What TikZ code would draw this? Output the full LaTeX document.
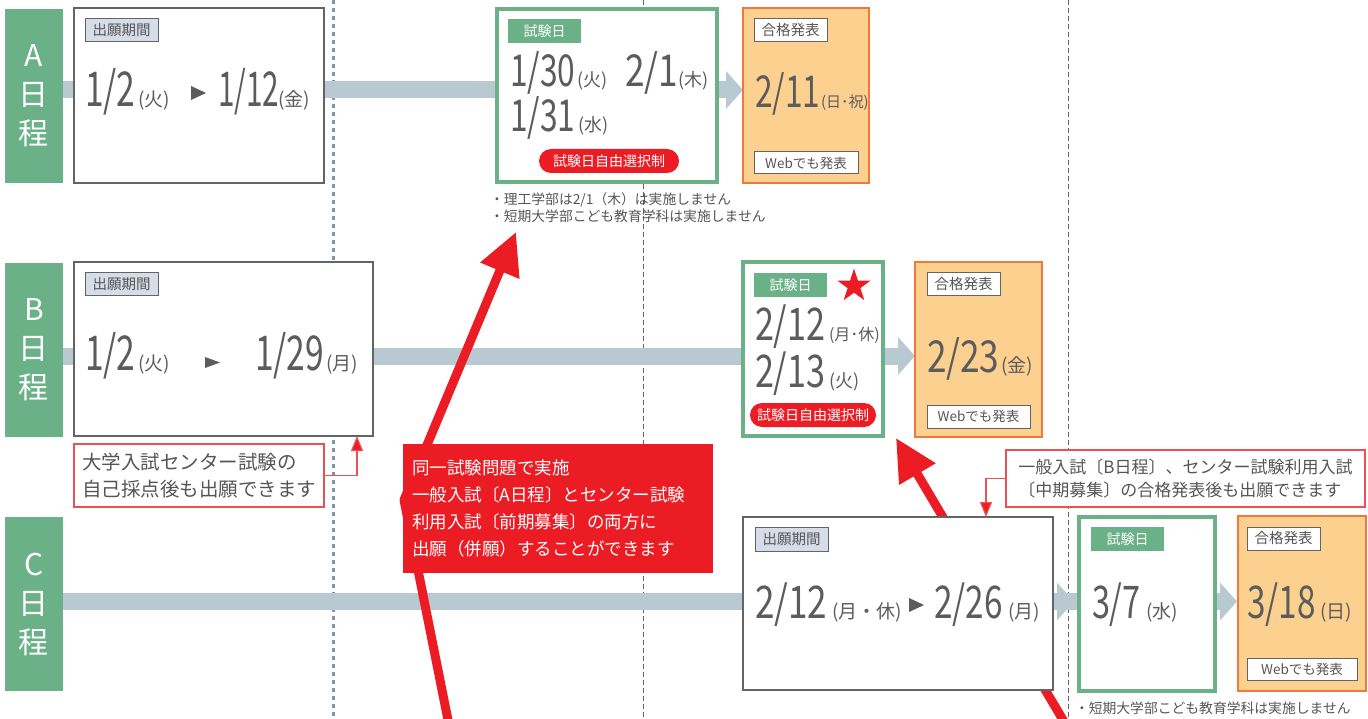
\documentclass[tikz,border=0pt]{standalone}
\usepackage{fontspec}
\usepackage{graphicx}
\setmainfont{Noto Sans CJK JP}
\usetikzlibrary{arrows.meta,shapes.geometric}
\pgfdeclarelayer{bg}
\pgfdeclarelayer{mid}
\pgfsetlayers{bg,mid,main}
\definecolor{grn}{RGB}{106,177,135}
\definecolor{rd}{RGB}{236,28,36}
\definecolor{orf}{RGB}{252,208,143}
\definecolor{orb}{RGB}{240,120,60}
\definecolor{barc}{RGB}{185,201,210}
\definecolor{tagf}{RGB}{214,221,232}
\definecolor{txt}{RGB}{85,85,85}
\definecolor{dtxt}{RGB}{92,92,92}
\definecolor{bxg}{RGB}{100,100,100}
\definecolor{bdot}{RGB}{125,150,170}
\definecolor{nrb}{RGB}{235,80,85}
\newcommand\bigd[3][0.72]{{\fontsize{#2}{#2}\selectfont\scalebox{#1}[1]{#3}}}
\newcommand\dayf[2]{{\fontsize{#1}{#1}\selectfont #2}}
\begin{document}
\begin{tikzpicture}[x=1pt,y=-1pt,
  every node/.style={inner sep=0pt,outer sep=0pt},
  lab/.style={fill=grn,text=white,anchor=north west,align=center,minimum width=58,minimum height=174,font=\fontsize{30}{39}\selectfont},
  appbox/.style={draw=bxg,line width=1.2pt,fill=white,anchor=north west},
  exambox/.style={draw=grn,line width=4pt,fill=white,anchor=north west},
  resbox/.style={draw=orb,line width=1.5pt,fill=orf,anchor=north west},
  tagbox/.style={draw=bxg,line width=1pt,fill=tagf,anchor=north west,text=txt,font=\fontsize{14.5}{14.5}\selectfont},
  wtag/.style={tagbox,fill=white},
  gtag/.style={fill=grn,anchor=north west,text=white,font=\fontsize{14}{14}\selectfont},
  pill/.style={fill=rd,rounded corners=12pt,anchor=north west,text=white,minimum height=24,font=\fontsize{14}{14}\selectfont},
  dt/.style={anchor=base west,text=dtxt},
  bar/.style={draw=barc,line width=17pt,-{Triangle[length=17pt,width=37pt]}},
  bigred/.style={draw=rd,line width=9pt,line join=round,-{Triangle[length=42pt,width=40pt]}},
  thinred/.style={draw=nrb,line width=1.2pt,-{Triangle[length=15pt,width=12pt,fill=rd]}},
  rednote/.style={draw=nrb,line width=1.2pt,fill=white,text=txt,align=left},
  bluedot/.style={draw=bdot,line width=3pt,dash pattern=on 4pt off 4pt},
  graydash/.style={draw=black!60,line width=1pt,dash pattern=on 5pt off 3pt},
  smallnote/.style={anchor=base west,text=txt,font=\fontsize{13.8}{13.8}\selectfont}]
\useasboundingbox (0,0) rectangle (1368,719);

% ---------- row labels ----------
\node[lab] (labA) at (5,9) {A\\日\\程};
\node[lab] (labB) at (5,263) {B\\日\\程};
\node[lab] (labC) at (5,517) {C\\日\\程};

% ---------- row A ----------
\node[appbox,minimum width=250,minimum height=175] (appA) at (74,8) {};
\node[tagbox,minimum width=73,minimum height=23] (tagA) at (85,19) {出願期間};
\node[dt] (dA1) at (85,107) {\bigd[0.7]{48}{1/2}};
\node[dt] (wA1) at (138,107) {\dayf{19}{(火)}};
\node[dt] (dA2) at (218,107) {\bigd[0.62]{48}{1/12}};
\node[dt] (wA2) at (278,107) {\dayf{19}{(金)}};
\fill[dtxt] (191,86) -- (206,93) -- (191,100) -- cycle;

\node[exambox,minimum width=220,minimum height=173] (exA) at (497,9) {};
\node[gtag,minimum width=73,minimum height=24] (gtA) at (508,19) {試験日};
\node[dt] (eA1) at (510,87) {\bigd{44}{1/30}};
\node[dt] (ewA1) at (577,87) {\dayf{18}{(火)}};
\node[dt] (eA2) at (625,87) {\bigd[0.8]{44}{2/1}};
\node[dt] (ewA2) at (678,87) {\dayf{18}{(木)}};
\node[dt] (eA3) at (510,132) {\bigd{44}{1/31}};
\node[dt] (ewA3) at (578,132) {\dayf{18}{(水)}};
\node[pill,minimum width=140] (pillA) at (539,149) {試験日自由選択制};
\node[smallnote] (nA1) at (490,205) {・理工学部は2/1（木）は実施しません};
\node[smallnote] (nA2) at (490,222) {・短期大学部こども教育学科は実施しません};

\node[resbox,minimum width=126,minimum height=175] (resA) at (743,8) {};
\node[wtag,minimum width=73,minimum height=23] (rtA) at (754,19) {合格発表};
\node[dt] (rA) at (755,108) {\bigd[0.72]{44}{2/11}};
\node[dt] (rwA) at (821,108) {\dayf{15}{(日･祝)}};
\node[wtag,minimum width=104,minimum height=22,font=\fontsize{13.5}{13.5}\selectfont] (webA) at (754,152) {Webでも発表};

% ---------- row B ----------
\node[appbox,minimum width=299,minimum height=174] (appB) at (74,262) {};
\node[tagbox,minimum width=73,minimum height=23] (tagB) at (85,273) {出願期間};
\node[dt] (dB1) at (85,370) {\bigd[0.7]{48}{1/2}};
\node[dt] (wB1) at (138,370) {\dayf{19}{(火)}};
\node[dt] (dB2) at (255,370) {\bigd[0.7]{48}{1/29}};
\node[dt] (wB2) at (326,370) {\dayf{19}{(月)}};
\fill[dtxt] (205,357) -- (220,362.5) -- (205,368) -- cycle;

\node[exambox,minimum width=140,minimum height=174] (exB) at (743,262) {};
\node[gtag,minimum width=73,minimum height=24] (gtB) at (754,273) {試験日};
\node[star,star points=5,star point ratio=2.618,fill=rd,minimum size=35] (starB) at (854,286) {};
\node[dt] (eB1) at (755,340) {\bigd[0.76]{45}{2/12}};
\node[dt] (ewB1) at (829,340) {\dayf{16}{(月･休)}};
\node[dt] (eB2) at (755,387) {\bigd[0.76]{45}{2/13}};
\node[dt] (ewB2) at (829,387) {\dayf{18}{(火)}};
\node[pill,minimum width=126] (pillB) at (750,403) {試験日自由選択制};

\node[resbox,minimum width=127,minimum height=175] (resB) at (915,262) {};
\node[wtag,minimum width=73,minimum height=23] (rtB) at (927,273) {合格発表};
\node[dt] (rB) at (927,372) {\bigd[0.8]{44}{2/23}};
\node[dt] (rwB) at (1001,372) {\dayf{19}{(金)}};
\node[wtag,minimum width=103,minimum height=23,font=\fontsize{13.5}{13.5}\selectfont] (webB) at (927,405) {Webでも発表};

\node[rednote,minimum width=250,minimum height=63,anchor=north west,font=\fontsize{19.5}{27}\selectfont] (noteB) at (74,444) {大学入試センター試験の\\自己採点後も出願できます};

% ---------- row C ----------
\node[appbox,minimum width=310,minimum height=173] (appC) at (743,517) {};
\node[tagbox,minimum width=73,minimum height=24] (tagC) at (755,527) {出願期間};
\node[dt] (dC1) at (755,618) {\bigd[0.78]{45}{2/12}};
\node[dt] (wC1) at (832,618) {\dayf{19}{(月・休)}};
\node[dt] (dC2) at (934,618) {\bigd[0.74]{45}{2/26}};
\node[dt] (wC2) at (1008,618) {\dayf{19}{(月)}};
\fill[dtxt] (909,598) -- (924,605) -- (909,612) -- cycle;

\node[exambox,minimum width=136,minimum height=174] (exC) at (1079,517) {};
\node[gtag,minimum width=73,minimum height=24] (gtC) at (1091,527) {試験日};
\node[dt] (eC) at (1092,618) {\bigd{45}{3/7}};
\node[dt] (ewC) at (1146,618) {\dayf{19}{(水)}};

\node[resbox,minimum width=128,minimum height=175] (resC) at (1238,516) {};
\node[wtag,minimum width=73,minimum height=23] (rtC) at (1247,527) {合格発表};
\node[dt] (rC) at (1247,618) {\bigd[0.74]{45}{3/18}};
\node[dt] (rwC) at (1320,618) {\dayf{19}{(日)}};
\node[wtag,minimum width=110,minimum height=22,font=\fontsize{13.5}{13.5}\selectfont] (webC) at (1247,658) {Webでも発表};
\node[smallnote] (nC) at (1075,713) {・短期大学部こども教育学科は実施しません};

\node[rednote,minimum width=359,minimum height=57,anchor=north west,font=\fontsize{17}{23}\selectfont] (noteC) at (1006,450) {一般入試〔B日程〕、センター試験利用入試\\〔中期募集〕の合格発表後も出願できます};

% ---------- red callout ----------
\node[fill=rd,text=white,anchor=north west,minimum width=310,minimum height=129,text width=292,align=left,font=\fontsize{17.5}{27}\selectfont] (callout) at (403,444)
  {同一試験問題で実施\\一般入試〔A日程〕とセンター試験\\利用入試〔前期募集〕の両方に\\出願（併願）することができます};

% ---------- note connectors ----------
\draw[thinred] (noteB.east) -| ([xshift=-16pt]appB.south east);
\draw[thinred] (noteC.west) -| ([xshift=-67pt]appC.north east);

% ---------- background lines and bars ----------
\coordinate (v1t) at (333,0); \coordinate (v1b) at (333,719);
\coordinate (v2t) at (643,0); \coordinate (v2b) at (643,719);
\coordinate (v3t) at (1068,0); \coordinate (v3b) at (1068,719);
\coordinate (bA) at (63,90);
\coordinate (bB) at (63,356);
\coordinate (bC) at (63,601.5);
\begin{pgfonlayer}{bg}
\draw[bluedot] (v1t) -- (v1b);
\draw[graydash] (v2t) -- (v2b);
\draw[graydash] (v3t) -- (v3b);
\draw[bar] (bA) -- (bA -| resA.west);
\draw[bar] (bB) -- (bB -| resB.west);
\draw[bar] (bC) -- ([xshift=-1pt]bC -| resC.west);
\draw[bar] (bC -| appC.east) -- ([xshift=-5pt]bC -| exC.west);
\end{pgfonlayer}

% ---------- big red arrows ----------
\coordinate (r1s) at (449,725);
\coordinate (r1m) at (404,500);
\coordinate (r1e) at (516,232);
\coordinate (r2s) at (1066,725);
\coordinate (r2e) at (896,438);
\begin{pgfonlayer}{mid}
\draw[bigred] (r1s) -- (r1m) -- (r1e);
\draw[bigred] (r2s) -- (r2e);
\end{pgfonlayer}
\end{tikzpicture}
\end{document}
